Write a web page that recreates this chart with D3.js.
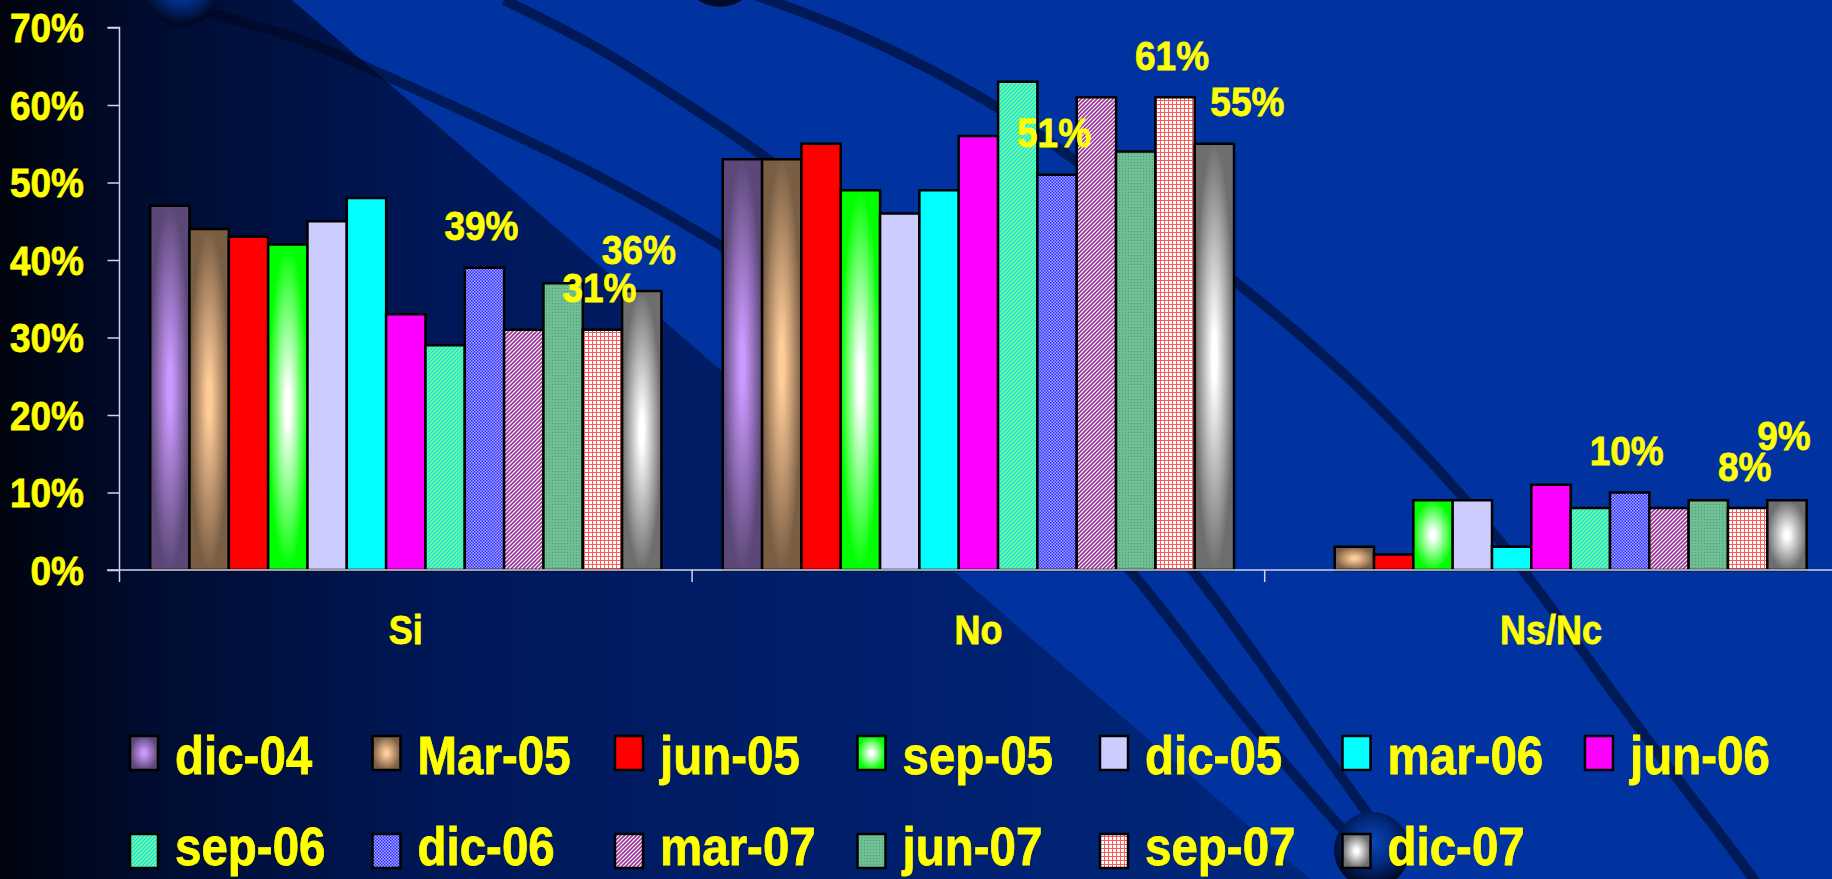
<!DOCTYPE html>
<html>
<head>
<meta charset="utf-8">
<script src="https://cdn.jsdelivr.net/npm/d3@7"></script>
<style>
  html, body { margin: 0; padding: 0; background: #000; overflow: hidden; }
  text { font-family: "Liberation Sans", Arial, sans-serif; font-weight: bold; fill: #ffff00;
         stroke: #ffff00; stroke-width: 0.7px; }
</style>
</head>
<body>
<svg id="chart" width="1832" height="879"></svg>
<script>
  // ---- data ----
  const categories = ['Si', 'No', 'Ns/Nc'];
  const seriesNames = ['dic-04', 'Mar-05', 'jun-05', 'sep-05', 'dic-05', 'mar-06', 'jun-06',
                       'sep-06', 'dic-06', 'mar-07', 'jun-07', 'sep-07', 'dic-07'];
  const siValues   = [47, 44, 43, 42, 45, 48, 33, 29, 39, 31, 37, 31, 36];
  const noValues   = [53, 53, 55, 49, 46, 49, 56, 63, 51, 61, 54, 61, 55];
  const nsncValues = [0, 3, 2, 9, 9, 3, 11, 8, 10, 8, 9, 8, 9];
  const yTicks = [0, 10, 20, 30, 40, 50, 60, 70];
  const labelledSeries = ['dic-06', 'sep-07', 'dic-07'];

  const valuesByCat = { 'Si': siValues, 'No': noValues, 'Ns/Nc': nsncValues };

  // ---- styles ----
  const seriesFill = ['url(#g-dic04)', 'url(#g-mar05)', '#ff0000', 'url(#g-sep05)', '#ccccff',
                      '#00ffff', '#ff00ff', 'url(#p-sep06)', 'url(#p-dic06)', 'url(#p-mar07)',
                      'url(#p-jun07)', 'url(#p-sep07)', 'url(#g-dic07)'];
  // label nudges (in px) where the original labels were dragged
  const labelNudge = { 'No|dic-07': [36, 0], 'Ns/Nc|dic-07': [0, -23] };
  const SY = 1.12;   // the slide text is stretched vertically

  const svg = d3.select('#chart');
  const defs = svg.append('defs');

  // background
  let bg = defs.append('linearGradient').attr('id', 'bg').attr('x1', 0).attr('x2', 1).attr('y1', 0).attr('y2', 0);
  [[0, '#00030c'], [0.08, '#000c30'], [0.25, '#00185a'], [0.5, '#00206e'], [0.75, '#00287e']]
    .forEach(s => bg.append('stop').attr('offset', s[0]).attr('stop-color', s[1]));

  let sph = defs.append('radialGradient').attr('id', 'sphere').attr('cx', 0.5).attr('cy', 0.4).attr('r', 0.55);
  [[0, '#0b46b8'], [0.55, '#022a80'], [1, '#000a26']]
    .forEach(s => sph.append('stop').attr('offset', s[0]).attr('stop-color', s[1]));

  // centre gradients of the bars
  function centerGrad(id, inner, outer) {
    let g = defs.append('radialGradient').attr('id', id)
      .attr('cx', 0.5).attr('cy', 0.5).attr('r', 0.5);
    g.append('stop').attr('offset', 0).attr('stop-color', inner);
    g.append('stop').attr('offset', 0.12).attr('stop-color', inner);
    g.append('stop').attr('offset', 1).attr('stop-color', outer);
  }
  centerGrad('g-dic04', '#cc99ff', '#5c4878');
  centerGrad('g-mar05', '#ffcc99', '#7a5e44');
  centerGrad('g-sep05', '#ffffff', '#00ff00');
  centerGrad('g-dic07', '#ffffff', '#6e6e6e');

  function pattern(id, size, draw) {
    let p = defs.append('pattern').attr('id', id).attr('patternUnits', 'userSpaceOnUse')
      .attr('width', size).attr('height', size);
    draw(p);
  }
  pattern('p-sep06', 4, p => {
    p.append('rect').attr('width', 4).attr('height', 4).attr('fill', '#8cff80');
    p.append('path').attr('d', 'M0,4L4,0M-1,1L1,-1M3,5L5,3').attr('stroke', '#10e0f0').attr('stroke-width', 1.5);
  });
  pattern('p-dic06', 3, p => {
    p.append('rect').attr('width', 3).attr('height', 3).attr('fill', '#a8a8ff');
    p.append('rect').attr('width', 1.5).attr('height', 1.5).attr('fill', '#2e2eff');
    p.append('rect').attr('x', 1.5).attr('y', 1.5).attr('width', 1.5).attr('height', 1.5).attr('fill', '#2e2eff');
  });
  pattern('p-mar07', 4, p => {
    p.append('rect').attr('width', 4).attr('height', 4).attr('fill', '#ffffff');
    p.append('path').attr('d', 'M0,4L4,0M-1,1L1,-1M3,5L5,3').attr('stroke', '#993399').attr('stroke-width', 1.6);
  });
  pattern('p-jun07', 3, p => {
    p.append('rect').attr('width', 3).attr('height', 3).attr('fill', '#6fbf94');
    p.append('rect').attr('width', 1).attr('height', 1).attr('fill', '#4f9a72');
  });
  pattern('p-sep07', 4, p => {
    p.append('rect').attr('width', 4).attr('height', 4).attr('fill', '#ffffff');
    p.append('path').attr('d', 'M0,0.5H4M0.5,0V4').attr('stroke', '#ff5a5a').attr('stroke-width', 1);
  });

  svg.append('rect').attr('width', 1832).attr('height', 879).attr('fill', 'url(#bg)');
  svg.append('path').attr('d', 'M292,0L1832,0L1832,879L1310,879Z').attr('fill', '#0033a0');

  // decorative swooshes of the slide template
  const swooshes = [
    [[181, 5], [300, 37], [357, 63], [558, 153], [700, 230], [900, 360], [1100, 520], [1227, 700], [1352, 840]],
    [[504, 0], [600, 47], [680, 100], [763, 153], [900, 260], [1060, 420], [1190, 560], [1286, 700], [1370, 817]],
    [[740, -10], [858, 31], [995, 103], [1066, 153], [1235, 279], [1358, 383], [1465, 497], [1540, 590], [1631, 720], [1756, 879], [1780, 920]]
  ];
  const swooshLine = d3.line().curve(d3.curveBasis);
  svg.selectAll('.swoosh').data(swooshes).join('path')
    .attr('d', swooshLine).attr('fill', 'none')
    .attr('stroke', '#00051e').attr('stroke-opacity', 0.55).attr('stroke-width', 10);

  const spheres = [[182, -10, 37], [720, -31, 38], [1372, 850, 38]];
  svg.selectAll('.sphere').data(spheres).join('circle')
    .attr('cx', d => d[0]).attr('cy', d => d[1]).attr('r', d => d[2]).attr('fill', 'url(#sphere)');

  // ---- scales ----
  const x0 = d3.scaleBand().domain(categories).range([119.5, 1837.3]).paddingInner(0).paddingOuter(0);
  const x1 = d3.scaleBand().domain(seriesNames).range([0, x0.bandwidth()]).paddingInner(0).paddingOuter(0.78);
  const y = d3.scaleLinear().domain([0, 70]).range([570, 27.5]);

  function label(sel, x, yBase, size, anchor, txt) {
    return sel.append('text')
      .attr('transform', `translate(${x},${yBase}) scale(1,${SY})`)
      .attr('text-anchor', anchor).attr('font-size', size).text(txt);
  }

  // ---- bars ----
  const barsData = [];
  categories.forEach(c => {
    valuesByCat[c].forEach((v, i) => barsData.push({ cat: c, series: seriesNames[i], i: i, v: v }));
  });

  svg.append('g').selectAll('rect').data(barsData.filter(d => d.v > 0)).join('rect')
    .attr('x', d => x0(d.cat) + x1(d.series))
    .attr('y', d => y(d.v))
    .attr('width', x1.bandwidth())
    .attr('height', d => y(0) - y(d.v))
    .attr('fill', d => seriesFill[d.i])
    .attr('stroke', '#000').attr('stroke-width', 2.5);

  // ---- axes ----
  const axisColor = '#d4d4e8';
  const yAxis = d3.axisLeft(y).tickValues(yTicks).tickSize(12).tickFormat('');
  const gy = svg.append('g').attr('transform', 'translate(119.5,0)').call(yAxis);
  gy.select('.domain').attr('d', `M-12,${y(70)}H0V582`);
  gy.selectAll('path, line').attr('stroke', axisColor).attr('stroke-width', 1.5);

  const gx = svg.append('g').attr('transform', `translate(0,${y(0)})`);
  gx.append('line').attr('x1', 107).attr('x2', 1832).attr('stroke', axisColor).attr('stroke-width', 1.5);
  gx.selectAll('.tk').data(categories.slice(1)).join('line')
    .attr('x1', d => x0(d)).attr('x2', d => x0(d)).attr('y1', 0).attr('y2', 12)
    .attr('stroke', axisColor).attr('stroke-width', 1.5);

  yTicks.forEach(t => label(svg, 84, y(t) + 14.5, 37, 'end', t + '%'));
  categories.forEach(c => label(svg, x0(c) + x0.bandwidth() / 2, 643.5, 36, 'middle', c));

  // ---- data labels ----
  categories.forEach(c => {
    labelledSeries.forEach(s => {
      const v = valuesByCat[c][seriesNames.indexOf(s)];
      const n = labelNudge[c + '|' + s] || [0, 0];
      const cx = x0(c) + x1(s) + x1.bandwidth() / 2 - 3 + n[0];
      const cy = y(v) - 42 + n[1];
      label(svg, cx, cy + 14.5, 37, 'middle', v + '%');
    });
  });

  // ---- legend ----
  const legend = svg.append('g');
  seriesNames.forEach((s, i) => {
    const col = i % 7, row = Math.floor(i / 7);
    const lx = 130 + col * 242.5, ly = 736 + row * 98;
    legend.append('rect').attr('x', lx).attr('y', ly).attr('width', 28).attr('height', 34)
      .attr('fill', seriesFill[i]).attr('stroke', '#000').attr('stroke-width', 2.5);
    label(legend, lx + 45, row ? 865 : 774, 47.5, 'start', s);
  });
</script>
</body>
</html>
